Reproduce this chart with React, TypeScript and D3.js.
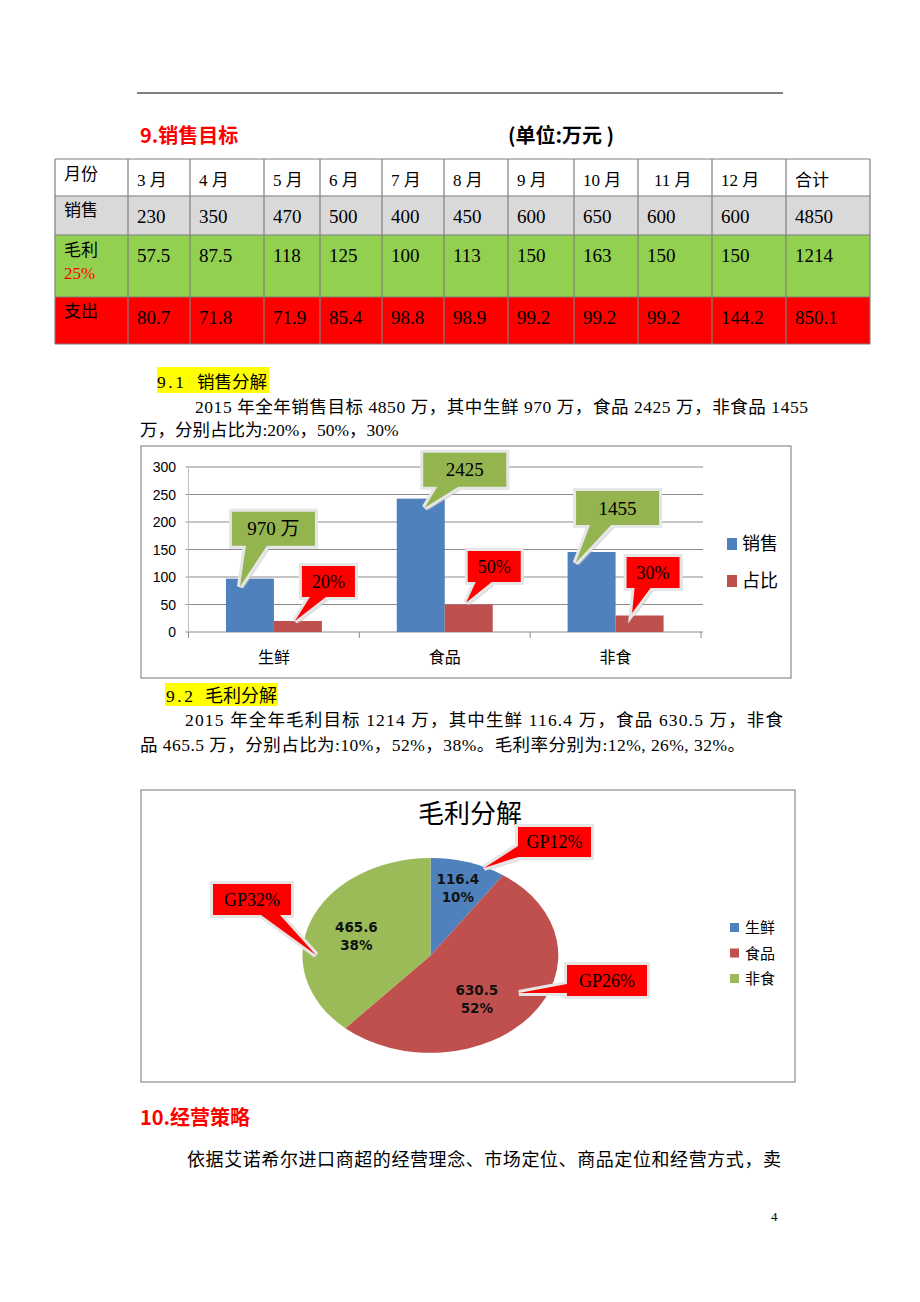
import React from 'react';
import * as d3 from 'd3';

// ---------- Table data ----------
const tableMonths = ['3 月', '4 月', '5 月', '6 月', '7 月', '8 月', '9 月', '10 月', '11 月', '12 月', '合计'];
const salesRow = ['230', '350', '470', '500', '400', '450', '600', '650', '600', '600', '4850'];
const profitRow = ['57.5', '87.5', '118', '125', '100', '113', '150', '163', '150', '150', '1214'];
const expenseRow = ['80.7', '71.8', '71.9', '85.4', '98.8', '98.9', '99.2', '99.2', '99.2', '144.2', '850.1'];

// ---------- Bar chart data ----------
const barCategories = ['生鲜', '食品', '非食'];
const barSeriesNames = ['销售', '占比'];
const salesSeries = [97, 242.5, 145.5];
const shareSeries = [20, 50, 30];
const salesCalloutText = ['970 万', '2425', '1455'];
const shareCalloutText = ['20%', '50%', '30%'];
const yTicks = [0, 50, 100, 150, 200, 250, 300];

// ---------- Pie data ----------
const pieCategories = ['生鲜', '食品', '非食'];
const pieValues = [116.4, 630.5, 465.6];
const piePercents = ['10%', '52%', '38%'];
const gpLabels = ['GP12%', 'GP26%', 'GP32%'];

// ---------- styling / layout ----------
const SERIF = "'Liberation Serif', 'Noto Sans CJK SC', serif";
const SANS = "'Noto Sans CJK SC', 'Liberation Sans', sans-serif";
const BLUE = '#4f81bd';
const RED = '#c0504d';
const GREEN = '#9bbb59';
const pieColors = [BLUE, RED, GREEN];

const colEdges = [55, 128, 190, 264, 320, 382, 444, 508, 574, 638, 712, 786, 870];
const rowEdges = [159, 196, 235, 297, 344];

type CalloutProps = {
  x: number; y: number; w: number; h: number;
  b1: number; b2: number; tx: number; ty: number;
  side: 'bottom' | 'left';
  fill: string; text: string; fontSize: number;
};

function calloutPath(p: CalloutProps) {
  const { x, y, w, h, b1, b2, tx, ty, side } = p;
  if (side === 'bottom') {
    return `M${x},${y}H${x + w}V${y + h}H${b2}L${tx},${ty}L${b1},${y + h}H${x}Z`;
  }
  return `M${x},${y}H${x + w}V${y + h}H${x}V${b2}L${tx},${ty}L${x},${b1}Z`;
}

function Callout(p: CalloutProps) {
  const d = calloutPath(p);
  return (
    <g>
      <path d={d} transform="translate(3,3)" fill="#bfbfbf" opacity={0.6} />
      <path d={d} fill="none" stroke="#e6e6e6" strokeWidth={6} strokeLinejoin="miter" />
      <path d={d} fill={p.fill} />
      <text x={p.x + p.w / 2} y={p.y + p.h / 2 + p.fontSize * 0.35} textAnchor="middle"
        fontFamily={SERIF} fontSize={p.fontSize} fill="#000">{p.text}</text>
    </g>
  );
}

function Table() {
  const rows = [
    { label: '月份', vals: tableMonths, fill: '#ffffff', labelY: 180, valY: 186 },
    { label: '销售', vals: salesRow, fill: '#d9d9d9', labelY: 216, valY: 223 },
    { label: '毛利', vals: profitRow, fill: '#92d050', labelY: 256, valY: 262 },
    { label: '支出', vals: expenseRow, fill: '#ff0000', labelY: 317, valY: 324 },
  ];
  return (
    <g>
      {rows.map((r, i) => (
        <rect key={'bg' + i} x={colEdges[0]} y={rowEdges[i]} width={colEdges[colEdges.length - 1] - colEdges[0]}
          height={rowEdges[i + 1] - rowEdges[i]} fill={r.fill} />
      ))}
      {rows.map((r, i) => (
        <g key={'r' + i}>
          <text x={colEdges[0] + 9} y={r.labelY} fontFamily={SERIF} fontSize={17} fill="#000">{r.label}</text>
          {r.vals.map((v, j) => (
            <text key={j} x={colEdges[j + 1] + (j === 8 && i === 0 ? 16 : 9)} y={r.valY} fontFamily={SERIF}
              fontSize={i === 0 ? 17 : 19} fill="#000">{v}</text>
          ))}
        </g>
      ))}
      <text x={colEdges[0] + 9} y={279} fontFamily={SERIF} fontSize={17} fill="#ff0000">25%</text>
      {rowEdges.map((y, i) => (
        <line key={'h' + i} x1={colEdges[0]} x2={colEdges[colEdges.length - 1]} y1={y} y2={y} stroke="#7f7f7f" strokeWidth={1.2} />
      ))}
      {colEdges.map((x, i) => (
        <line key={'v' + i} x1={x} x2={x} y1={rowEdges[0]} y2={rowEdges[rowEdges.length - 1]} stroke="#7f7f7f" strokeWidth={1.2} />
      ))}
    </g>
  );
}

function BarChart() {
  const x = d3.scaleBand<string>().domain(barCategories).range([188.5, 701]);
  const xi = d3.scaleBand<string>().domain(barSeriesNames).range([0, x.bandwidth()]).paddingOuter(0.78);
  const y = d3.scaleLinear().domain([0, 300]).range([632, 467]);
  const bw = xi.bandwidth();

  // callout layout (offsets relative to bars)
  const gBox = [{ dx: -0.5, dy: 67 }, { dx: 20, dy: 46 }, { dx: 2, dy: 61 }];
  const gTip = [{ dx: 14, dy: 8 }, { dx: 28, dy: 9 }, { dx: 8, dy: 11 }];
  const rBox = [{ dx: 4, dy: 55 }, { dx: -1, dy: 53.5 }, { dx: -13, dy: 58.5 }];
  const rTip = [{ dx: -3, dy: 0 }, { dx: -2.5, dy: -2 }, { dx: -7.5, dy: -2.5 }];

  const [x0, x1] = x.range();
  return (
    <g>
      <rect x={141} y={446} width={650} height={232} fill="#fff" stroke="#8c8c8c" strokeWidth={1.2} />
      {yTicks.map((t) => (
        <g key={t}>
          <line x1={x0 - 3} x2={x1 + 2} y1={y(t)} y2={y(t)} stroke="#8c8c8c" strokeWidth={1} />
          <text x={176} y={y(t) + 5} textAnchor="end" fontFamily="'Liberation Sans', sans-serif" fontSize={14} fill="#000">{t}</text>
        </g>
      ))}
      <line x1={x0} x2={x0} y1={y(300)} y2={y(0)} stroke="#bfbfbf" />
      {[...barCategories.map((c) => x(c)!), x1].map((v, i) => (
        <line key={'tk' + i} x1={v} x2={v} y1={y(0)} y2={y(0) + 6} stroke="#8c8c8c" />
      ))}
      {barCategories.map((c, i) => (
        <g key={c}>
          <rect x={x(c)! + xi('销售')!} y={y(salesSeries[i])} width={bw} height={y(0) - y(salesSeries[i])} fill={BLUE} />
          <rect x={x(c)! + xi('占比')!} y={y(shareSeries[i])} width={bw} height={y(0) - y(shareSeries[i])} fill={RED} />
          <text x={x(c)! + x.bandwidth() / 2} y={663} textAnchor="middle" fontFamily={SANS} fontSize={16} fill="#000">{c}</text>
        </g>
      ))}
      {barCategories.map((c, i) => {
        const cx = x(c)! + x.bandwidth() / 2;
        const bx = cx - 41.5 + gBox[i].dx;
        const by = y(salesSeries[i]) - gBox[i].dy;
        return (
          <Callout key={'g' + i} x={bx} y={by} w={83} h={34} b1={bx + 14} b2={bx + 35}
            tx={x(c)! + xi('销售')! + gTip[i].dx} ty={y(salesSeries[i]) + gTip[i].dy}
            side="bottom" fill="#94b44f" text={salesCalloutText[i]} fontSize={19} />
        );
      })}
      {barCategories.map((c, i) => {
        const rc = x(c)! + xi('占比')! + bw / 2;
        const bx = rc + rBox[i].dx;
        const by = y(shareSeries[i]) - rBox[i].dy;
        return (
          <Callout key={'r' + i} x={bx} y={by} w={53} h={31} b1={bx + 8} b2={bx + 24}
            tx={rc + rTip[i].dx} ty={y(shareSeries[i]) + rTip[i].dy}
            side="bottom" fill="#ff0000" text={shareCalloutText[i]} fontSize={18} />
        );
      })}
      {barSeriesNames.map((s, i) => (
        <g key={s}>
          <rect x={727} y={538 + i * 37} width={10} height={12} fill={i === 0 ? BLUE : RED} />
          <text x={742} y={550 + i * 37} fontFamily={SANS} fontSize={18} fill="#000">{s}</text>
        </g>
      ))}
    </g>
  );
}

function PieChart() {
  const cx = 430.5, cy = 955.5, rx = 128, ry = 97.5;
  const pie = d3.pie<number>().sort(null).value((d) => d);
  const arcs = pie(pieValues);
  const arcGen = d3.arc<d3.PieArcDatum<number>>().innerRadius(0).outerRadius(1);
  const labelR = [0.72, 0.6, 0.62];
  const labelAdj = [{ dx: 0, dy: 0 }, { dx: -14, dy: 7 }, { dx: 0, dy: 2 }];

  const gp = [
    { x: 518, y: 827, w: 73, h: 30, side: 'left' as const, b1: 846, b2: 857, tx: 484, ty: 868 },
    { x: 567, y: 965, w: 80, h: 31, side: 'left' as const, b1: 984, b2: 993, tx: 519, ty: 993 },
    { x: 213, y: 884, w: 78, h: 31, side: 'bottom' as const, b1: 261, b2: 280, tx: 316, ty: 955 },
  ];

  return (
    <g>
      <rect x={141} y={790} width={654} height={292} fill="#fff" stroke="#8c8c8c" strokeWidth={1.2} />
      <text x={470} y={823} textAnchor="middle" fontFamily={SANS} fontSize={26} fill="#000">毛利分解</text>
      <g transform={`translate(${cx},${cy}) scale(${rx},${ry})`}>
        {arcs.map((a, i) => (
          <path key={i} d={arcGen(a) || ''} fill={pieColors[i]} />
        ))}
      </g>
      {arcs.map((a, i) => {
        const m = (a.startAngle + a.endAngle) / 2;
        const lx = cx + Math.sin(m) * labelR[i] * rx + labelAdj[i].dx;
        const ly = cy - Math.cos(m) * labelR[i] * ry + labelAdj[i].dy;
        return (
          <text key={'l' + i} textAnchor="middle" fontFamily="'DejaVu Sans', sans-serif" fontWeight="bold" fontSize={13.5} fill="#111">
            <tspan x={lx} y={ly - 4}>{pieValues[i].toFixed(1)}</tspan>
            <tspan x={lx} y={ly + 14}>{piePercents[i]}</tspan>
          </text>
        );
      })}
      {gp.map((g, i) => (
        <Callout key={'gp' + i} {...g} fill="#ff0000" text={gpLabels[i]} fontSize={18} />
      ))}
      {pieCategories.map((c, i) => (
        <g key={c}>
          <rect x={730} y={923 + i * 25.5} width={9} height={9} fill={pieColors[i]} />
          <text x={745} y={933 + i * 25.5} fontFamily={SANS} fontSize={15} fill="#000">{c}</text>
        </g>
      ))}
    </g>
  );
}

export default function App() {
  return (
    <svg width={920} height={1302} viewBox="0 0 920 1302"
      style={{ position: 'absolute', left: 0, top: 0, display: 'block', background: '#fff' }}>
      <rect x={0} y={0} width={920} height={1302} fill="#fff" />
      <line x1={137} x2={783} y1={93} y2={93} stroke="#000" strokeWidth={1} />
      <text x={140} y={143} fontFamily={SANS} fontWeight="bold" fontSize={20} fill="#ff0000">9.销售目标</text>
      <text x={508} y={143} fontFamily={SANS} fontWeight="bold" fontSize={20} fill="#000">(单位:万元 )</text>
      <Table />

      <rect x={157} y={367} width={112} height={26} fill="#ffff00" />
      <text x={157} y={388} fontFamily={SERIF} fontSize={17.5} fill="#000" textLength={27} lengthAdjust="spacing">9.1</text>
      <text x={197} y={388} fontFamily={SERIF} fontSize={17.5} fill="#000">销售分解</text>
      <text x={195} y={413} fontFamily={SERIF} fontSize={17.5} fill="#000" textLength={613} lengthAdjust="spacing">2015 年全年销售目标 4850 万，其中生鲜 970 万，食品 2425 万，非食品 1455</text>
      <text x={140} y={436} fontFamily={SERIF} fontSize={17.5} fill="#000">万，分别占比为:20%，50%，30%</text>

      <BarChart />

      <rect x={165} y={683} width={113} height={23} fill="#ffff00" />
      <text x={166} y={702} fontFamily={SERIF} fontSize={17.5} fill="#000" textLength={27} lengthAdjust="spacing">9.2</text>
      <text x={205} y={702} fontFamily={SERIF} fontSize={18} fill="#000">毛利分解</text>
      <text x={185} y={726} fontFamily={SERIF} fontSize={17.5} fill="#000" textLength={598} lengthAdjust="spacing">2015 年全年毛利目标 1214 万，其中生鲜 116.4 万，食品 630.5 万，非食</text>
      <text x={140} y={751} fontFamily={SERIF} fontSize={17.5} fill="#000" textLength={605} lengthAdjust="spacing">品 465.5 万，分别占比为:10%，52%，38%。毛利率分别为:12%, 26%, 32%。</text>

      <PieChart />

      <text x={140} y={1125} fontFamily={SANS} fontWeight="bold" fontSize={20} fill="#ff0000">10.经营策略</text>
      <text x={187} y={1166} fontFamily={SERIF} fontSize={18} fill="#000" textLength={594} lengthAdjust="spacing">依据艾诺希尔进口商超的经营理念、市场定位、商品定位和经营方式，卖</text>
      <text x={771} y={1221} fontFamily={SERIF} fontSize={13} fill="#000">4</text>
    </svg>
  );
}
